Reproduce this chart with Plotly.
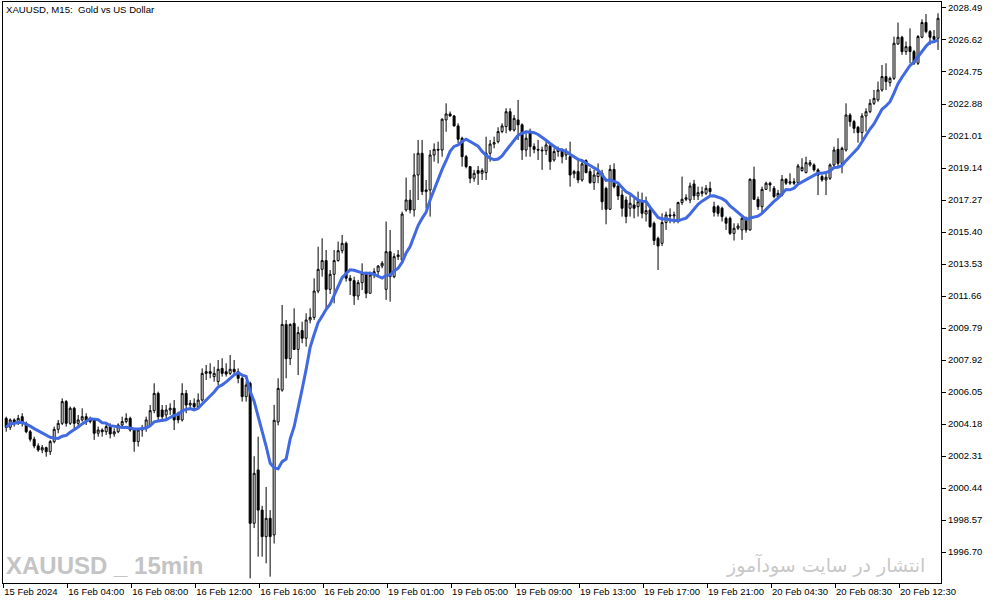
import plotly.graph_objects as go
import pandas as pd

opens = [
2004.51,2003.99,2004.42,2004.22,2004.61,2004.22,2003.73,2003.29,2002.90,2002.66,
2002.80,2002.56,2003.15,2003.87,2004.22,2005.49,2004.22,2005.10,2004.22,2004.42,
2004.61,2004.32,2004.42,2003.64,2003.83,2003.73,2004.03,2003.60,2003.73,2004.12,
2004.32,2004.51,2003.83,2003.15,2003.83,2003.93,2004.12,2004.96,2005.97,2005.00,
2004.71,2005.00,2005.10,2004.81,2004.42,2005.97,2005.29,2005.39,2005.19,2005.58,
2007.14,2007.24,2006.95,2006.66,2007.43,2007.24,2007.14,2007.38,2007.24,2006.85,
2005.78,2006.56,1998.38,2001.50,1999.15,1997.60,1998.67,1997.70,2004.30,2006.16,
2010.00,2008.00,2010.06,2008.54,2009.64,2009.19,2010.26,2010.41,2011.95,2013.22,
2013.73,2012.05,2012.93,2013.73,2014.31,2014.74,2012.70,2012.56,2011.66,2012.44,
2012.99,2011.82,2012.89,2013.08,2013.41,2012.05,2014.25,2012.79,2013.96,2013.76,
2016.69,2017.27,2016.69,2018.73,2020.00,2017.76,2017.86,2019.90,2020.23,2020.19,
2021.95,2022.30,2022.18,2021.60,2020.88,2019.80,2019.22,2018.54,2018.99,2018.83,
2018.87,2020.00,2020.54,2020.68,2021.27,2021.56,2022.43,2021.36,2021.95,2021.66,
2020.19,2021.21,2020.39,2020.23,2020.19,2020.15,2020.43,2019.61,2020.10,2020.19,
2019.90,2019.80,2018.80,2018.93,2018.44,2019.57,2018.93,2018.29,2018.64,2018.83,
2017.95,2016.73,2019.06,2018.09,2017.56,2017.27,2016.79,2016.98,2016.88,2017.17,
2016.45,2016.69,2015.91,2015.03,2014.74,2015.95,2016.40,2016.34,2016.01,2017.12,
2017.31,2017.27,2018.21,2017.51,2017.66,2017.66,2017.95,2016.88,2016.88,2016.79,
2016.20,2016.20,2015.32,2015.62,2015.52,2016.20,2015.52,2018.48,2017.31,2016.88,
2017.89,2018.25,2017.95,2017.47,2017.56,2018.48,2018.25,2018.34,2018.29,2018.99,
2018.87,2019.32,2019.32,2019.03,2018.64,2018.44,2018.54,2019.32,2020.23,2019.41,
2020.19,2022.24,2021.85,2021.52,2021.21,2022.18,2022.43,2022.92,2023.12,2023.70,
2024.48,2024.13,2024.38,2026.39,2026.78,2025.94,2026.23,2025.94,2025.26,2026.78,
2027.64,2027.11,2026.82,2026.72]

highs = [
2004.61,2004.51,2004.51,2004.71,2004.81,2004.32,2003.83,2003.44,2003.05,2002.95,
2002.86,2003.25,2004.03,2004.42,2005.68,2005.58,2005.20,2005.19,2004.71,2005.10,
2004.81,2004.61,2004.51,2004.03,2003.93,2004.22,2004.22,2003.93,2004.22,2004.61,
2004.81,2004.61,2003.93,2003.93,2004.12,2004.61,2005.29,2006.56,2006.07,2005.29,
2005.29,2005.39,2005.58,2004.90,2006.56,2006.17,2005.58,2005.68,2005.97,2007.43,
2007.63,2007.73,2007.53,2007.92,2008.02,2007.73,2008.21,2007.92,2007.43,2006.95,
2006.66,2006.66,2002.30,2003.44,1999.40,2000.50,1999.15,2005.30,2006.85,2011.14,
2010.26,2010.06,2010.94,2009.87,2010.16,2010.65,2010.94,2012.69,2014.54,2015.03,
2014.35,2013.18,2014.35,2014.84,2015.23,2014.84,2012.89,2012.79,2012.60,2013.57,
2013.08,2013.08,2013.28,2013.47,2013.70,2016.01,2015.52,2014.15,2014.35,2016.59,
2018.58,2017.86,2020.00,2020.78,2020.78,2018.44,2020.19,2020.58,2020.68,2022.04,
2022.92,2022.44,2022.24,2021.75,2020.97,2019.90,2019.26,2019.03,2019.26,2019.12,
2020.97,2020.78,2020.97,2021.52,2021.75,2022.63,2022.63,2022.24,2023.12,2021.75,
2021.17,2021.44,2020.58,2020.78,2020.39,2020.68,2020.58,2020.29,2020.39,2020.29,
2020.29,2020.68,2019.03,2019.61,2019.65,2019.65,2019.12,2019.03,2019.41,2019.03,
2018.05,2019.32,2019.41,2018.25,2017.86,2017.47,2017.66,2017.37,2017.76,2017.70,
2017.47,2016.88,2016.01,2015.13,2016.49,2016.59,2016.78,2016.59,2017.17,2018.64,
2017.60,2018.29,2018.44,2018.05,2018.05,2018.15,2018.34,2017.17,2016.98,2016.88,
2016.30,2016.30,2015.91,2015.91,2016.30,2016.30,2018.54,2019.22,2017.47,2018.05,
2018.34,2018.34,2018.09,2017.86,2018.73,2018.54,2018.83,2018.54,2019.38,2019.71,
2019.80,2019.61,2019.41,2019.12,2018.73,2018.83,2019.41,2020.39,2020.88,2020.39,
2022.92,2022.34,2021.95,2021.60,2022.34,2022.63,2023.16,2023.70,2024.19,2025.16,
2025.26,2024.48,2026.82,2027.64,2026.86,2026.53,2027.30,2026.04,2026.91,2027.83,
2028.14,2027.20,2027.20,2028.18]

lows = [
2003.73,2003.83,2004.03,2004.12,2004.03,2003.64,2003.15,2002.76,2002.56,2002.47,
2002.27,2002.37,2003.05,2003.64,2004.12,2004.03,2004.12,2003.93,2004.03,2004.32,
2004.12,2004.22,2003.25,2003.44,2003.44,2003.54,2003.34,2003.44,2003.64,2003.99,
2004.22,2003.73,2002.56,2002.86,2003.44,2003.73,2004.03,2004.81,2004.42,2004.32,
2004.42,2004.71,2003.83,2004.22,2004.32,2004.81,2005.10,2005.00,2005.10,2005.49,
2006.75,2006.85,2006.66,2006.46,2006.95,2006.95,2007.04,2007.04,2006.56,2005.49,
2005.49,1995.16,1998.10,1996.43,1996.43,1996.04,1995.26,1997.20,2004.10,2006.07,
2006.85,2007.63,2008.50,2007.04,2008.90,2008.70,2010.06,2010.26,2011.82,2012.79,
2010.94,2011.78,2011.23,2013.67,2014.15,2012.50,2011.72,2011.14,2011.43,2012.01,
2011.53,2011.82,2012.70,2012.79,2013.28,2011.43,2011.33,2012.70,2013.76,2013.67,
2016.59,2016.49,2016.30,2017.27,2017.56,2016.78,2016.30,2019.51,2019.41,2019.80,
2021.26,2022.14,2021.56,2020.60,2019.22,2019.12,2018.25,2018.34,2018.15,2018.44,
2018.44,2019.51,2020.29,2020.58,2021.17,2021.17,2021.27,2021.27,2020.78,2019.61,
2019.80,2019.80,2020.00,2019.61,2019.03,2019.90,2019.03,2019.51,2019.80,2019.41,
2019.61,2018.05,2018.54,2018.25,2018.34,2018.83,2018.21,2017.86,2018.25,2016.69,
2015.85,2016.69,2017.95,2017.27,2016.30,2015.91,2016.30,2016.20,2016.30,2016.20,
2016.01,2015.65,2014.64,2013.18,2014.58,2015.52,2015.91,2015.91,2015.91,2016.98,
2017.20,2017.08,2017.27,2017.27,2017.47,2017.56,2017.56,2016.30,2016.30,2016.01,
2015.52,2015.23,2014.90,2015.52,2014.94,2015.36,2015.48,2017.27,2016.69,2016.49,
2017.86,2017.76,2017.37,2017.37,2017.47,2018.15,2018.15,2018.15,2018.21,2018.93,
2018.83,2019.22,2018.93,2017.56,2018.34,2017.56,2018.44,2019.22,2019.22,2018.83,
2020.10,2021.56,2021.17,2020.62,2020.78,2021.27,2022.34,2022.82,2023.01,2023.60,
2023.70,2023.90,2024.28,2026.33,2025.75,2025.75,2025.26,2025.16,2025.16,2026.72,
2027.01,2026.33,2026.50,2026.04]

closes = [
2003.99,2004.42,2004.22,2004.51,2004.22,2003.73,2003.29,2002.90,2002.66,2002.80,
2002.56,2003.15,2003.87,2004.22,2005.49,2004.22,2005.10,2004.22,2004.42,2004.61,
2004.32,2004.42,2003.64,2003.83,2003.73,2004.03,2003.60,2003.73,2004.12,2004.32,
2004.51,2003.83,2003.15,2003.83,2003.93,2004.42,2004.96,2005.97,2004.61,2004.61,
2005.00,2005.10,2004.42,2004.42,2005.97,2005.29,2005.39,2005.19,2005.58,2007.14,
2007.24,2007.14,2007.14,2007.38,2007.14,2007.10,2007.38,2007.24,2006.85,2005.78,
2006.46,1998.38,2001.30,1999.15,1997.60,1998.67,1997.60,2004.40,2006.26,2010.00,
2008.00,2010.00,2008.54,2009.52,2009.19,2010.26,2010.41,2011.95,2013.22,2013.73,
2012.05,2012.93,2013.73,2014.31,2014.74,2012.70,2012.56,2011.66,2012.44,2012.99,
2011.82,2012.89,2013.08,2013.41,2013.57,2014.25,2012.79,2013.96,2014.06,2016.45,
2017.27,2016.69,2018.73,2020.00,2017.76,2017.86,2019.90,2020.23,2020.19,2021.99,
2022.30,2022.18,2021.60,2020.82,2019.80,2019.22,2018.54,2018.83,2018.83,2018.99,
2020.00,2020.54,2020.62,2021.27,2021.60,2022.43,2021.36,2022.04,2021.66,2020.19,
2020.88,2020.39,2020.23,2020.19,2020.15,2020.49,2019.51,2020.10,2020.19,2019.80,
2020.10,2018.73,2018.93,2018.44,2019.38,2018.87,2018.29,2018.73,2018.87,2017.17,
2016.73,2019.06,2018.05,2017.51,2016.79,2016.30,2017.08,2016.79,2017.17,2016.49,
2016.65,2015.71,2014.90,2014.58,2015.95,2016.40,2016.34,2016.40,2017.12,2017.31,
2017.40,2018.09,2017.51,2017.70,2017.76,2017.95,2017.76,2016.55,2016.49,2016.30,
2015.91,2015.32,2015.62,2015.75,2016.20,2015.52,2018.48,2017.31,2016.88,2017.89,
2018.25,2018.15,2017.47,2017.66,2018.48,2018.25,2018.34,2018.25,2019.26,2019.18,
2019.45,2019.45,2019.03,2018.73,2018.44,2018.60,2019.32,2020.19,2019.41,2020.29,
2022.24,2021.85,2021.46,2021.21,2022.18,2022.43,2022.92,2023.21,2023.70,2024.48,
2024.19,2024.38,2026.43,2026.78,2025.94,2026.23,2025.94,2025.26,2026.82,2027.64,
2027.11,2026.78,2026.66,2027.89]

x_tick_labels = ["15 Feb 2024", "16 Feb 04:00", "16 Feb 08:00", "16 Feb 12:00",
                 "16 Feb 16:00", "16 Feb 20:00", "19 Feb 01:00", "19 Feb 05:00",
                 "19 Feb 09:00", "19 Feb 13:00", "19 Feb 17:00", "19 Feb 21:00",
                 "20 Feb 04:30", "20 Feb 08:30", "20 Feb 12:30"]
y_tick_values = [1996.70, 1998.57, 2000.44, 2002.31, 2004.18, 2006.05, 2007.92,
                 2009.79, 2011.66, 2013.53, 2015.40, 2017.27, 2019.14, 2021.01,
                 2022.88, 2024.75, 2026.62, 2028.49]
ma_period = 10

n = len(closes)
bars = list(range(n))
ma = pd.Series(closes).rolling(ma_period, min_periods=1).mean().tolist()

fig = go.Figure()
fig.add_trace(go.Candlestick(
    x=bars, open=opens, high=highs, low=lows, close=closes,
    increasing=dict(line=dict(color="black", width=1), fillcolor="white"),
    decreasing=dict(line=dict(color="black", width=1), fillcolor="black"),
    whiskerwidth=0, hoverinfo="skip", showlegend=False))
fig.add_trace(go.Scatter(x=bars, y=ma, mode="lines",
                         line=dict(color="#4169E1", width=3),
                         hoverinfo="skip", showlegend=False))

font_axis = dict(family="Liberation Sans, Arial, sans-serif", size=9.5, color="black")
fig.update_layout(
    width=994, height=605,
    margin=dict(l=3, r=53, t=2, b=22),
    paper_bgcolor="white", plot_bgcolor="white",
    showlegend=False, hovermode=False,
    xaxis=dict(range=[-0.8, n - 0.25], rangeslider=dict(visible=False),
               showgrid=False, zeroline=False, showline=True, linecolor="black",
               linewidth=1, mirror=True, ticks="outside", ticklen=4,
               tickcolor="black", tickvals=[16 * k - 0.75 for k in range(len(x_tick_labels))],
               ticktext=x_tick_labels, ticklabelposition="outside right",
               tickangle=0, tickfont=font_axis, fixedrange=True, automargin=False),
    yaxis=dict(range=[1994.89, 2028.84], side="right", showgrid=False,
               zeroline=False, showline=True, linecolor="black", linewidth=1,
               mirror=True, ticks="outside", ticklen=4, tickcolor="black",
               tickvals=y_tick_values, ticktext=[f"{v:.2f}" for v in y_tick_values],
               tickfont=font_axis, fixedrange=True, automargin=False),
)

fig.add_annotation(text="XAUUSD, M15:\u00a0 Gold vs US Dollar", xref="paper", yref="paper",
                   x=0, y=1, xanchor="left", yanchor="top", xshift=1, yshift=0,
                   showarrow=False, font=dict(family="Liberation Sans, Arial, sans-serif",
                                              size=9.6, color="black"))
fig.add_annotation(text="<b>XAUUSD _ 15min</b>", xref="paper", yref="paper",
                   x=0, y=0, xanchor="left", yanchor="bottom", xshift=1, yshift=2,
                   showarrow=False,
                   font=dict(family="Liberation Sans, Arial, sans-serif",
                             size=24, color="#c4c4c4"))
fig.add_annotation(text="انتشار در سایت سودآموز", xref="paper", yref="paper",
                   x=1, y=0, xanchor="right", yanchor="bottom", xshift=-14, yshift=4,
                   showarrow=False,
                   font=dict(family="DejaVu Sans, sans-serif", size=19, color="#c8c8c8"))

fig.write_html("out.html", config={"displayModeBar": False},
               post_script="document.body.style.margin='0px';document.body.style.padding='0px';")
